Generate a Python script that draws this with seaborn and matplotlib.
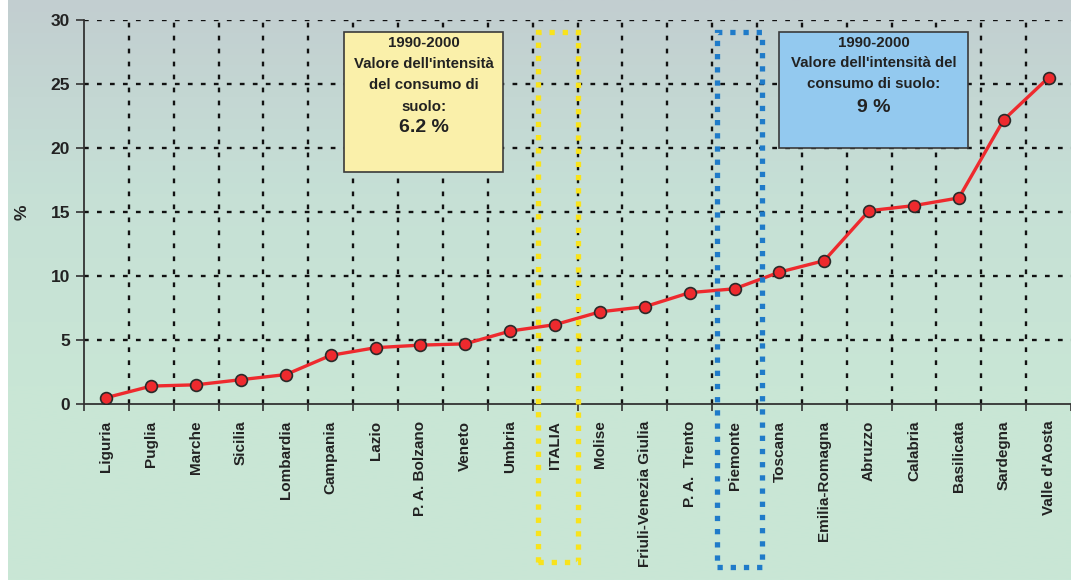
import numpy as np
import pandas as pd
import matplotlib
matplotlib.use("Agg")
import matplotlib.pyplot as plt
from matplotlib.patches import Rectangle
from matplotlib.colors import LinearSegmentedColormap
import seaborn as sns

# Intensità del consumo di suolo 1990-2000, per regione (%)
regions = ["Liguria", "Puglia", "Marche", "Sicilia", "Lombardia", "Campania",
           "Lazio", "P. A. Bolzano", "Veneto", "Umbria", "ITALIA", "Molise",
           "Friuli-Venezia Giulia", "P. A.  Trento", "Piemonte", "Toscana",
           "Emilia-Romagna", "Abruzzo", "Calabria", "Basilicata", "Sardegna",
           "Valle d'Aosta"]
values = [0.5, 1.4, 1.5, 1.9, 2.3, 3.8, 4.4, 4.6, 4.7, 5.7, 6.2, 7.2,
          7.6, 8.7, 9.0, 10.3, 11.2, 15.1, 15.5, 16.1, 22.2, 25.5]
y_ticks = [0, 5, 10, 15, 20, 25, 30]

italia_text = ["1990-2000", "Valore dell'intensità", "del consumo di", "suolo:"]
italia_value = "6.2 %"
piemonte_text = ["1990-2000", "Valore dell'intensità del", "consumo di suolo:"]
piemonte_value = "9 %"

df = pd.DataFrame({"regione": regions, "valore": values})

sns.set_theme(style="white")
plt.rcParams["font.family"] = ["Liberation Sans", "DejaVu Sans"]
plt.rcParams["font.weight"] = "bold"

W, H = 1071, 580
fig = plt.figure(figsize=(W / 100, H / 100), dpi=100)

# sfondo sfumato grigio-azzurro -> verde chiaro
bg = fig.add_axes([8 / W, 0, 1 - 8 / W, 1], zorder=-10)
grad = np.linspace(0, 1, 256).reshape(-1, 1)
cmap = LinearSegmentedColormap.from_list(
    "bg", ["#c2ced0", "#c6e0d6", "#c9e6d5", "#c9e7d6"])
bg.imshow(grad, aspect="auto", cmap=cmap, extent=[0, 1, 0, 1], origin="upper")
bg.set_axis_off()

ax = fig.add_axes([84 / W, 176 / H, (W - 84) / W, 384 / H])
ax.set_facecolor("none")

ink = "#222222"
sns.lineplot(data=df, x="regione", y="valore", sort=False, ax=ax,
             color="#ee2a2e", linewidth=2.4, marker="o", markersize=8.5,
             markerfacecolor="#ee2a2e", markeredgecolor="#2a2a2a",
             markeredgewidth=1.2, zorder=5)

n = len(regions)
ax.set_xlim(-0.5, n - 0.5)
ax.set_ylim(0, 30)
ax.set_yticks(y_ticks)
ax.set_yticklabels([str(t) for t in y_ticks], fontsize=12.5, fontweight="bold",
                   color=ink)
ax.set_xticks(range(n))
ax.set_xticklabels(regions, rotation=90, fontsize=11, fontweight="bold",
                   color=ink, va="top", ha="center")
ax.set_xticks(np.arange(-0.5, n, 1.0), minor=True)
ax.tick_params(axis="x", which="major", length=0, pad=12)
ax.tick_params(axis="x", which="minor", length=5, width=1.2, color="#333333",
               direction="out", bottom=True)
ax.tick_params(axis="y", which="major", length=6, width=1.2, color="#333333",
               direction="out", left=True, pad=4)
ax.set_xlabel("")
ax.set_ylabel("%", fontsize=12.5, fontweight="bold", color=ink)
ax.yaxis.set_label_coords(-54 / (W - 84), 0.5)

# griglia puntinata
dot = (0, (2.0, 3.5))
for yv in y_ticks[1:]:
    ax.axhline(yv, color="#111111", linewidth=1.7, linestyle=dot, zorder=1)
for xv in np.arange(0.5, n - 0.5, 1.0):
    ax.axvline(xv, color="#111111", linewidth=1.7, linestyle=dot, zorder=1)

for side in ["top", "right"]:
    ax.spines[side].set_visible(False)
for side in ["left", "bottom"]:
    ax.spines[side].set_color("#333333")
    ax.spines[side].set_linewidth(1.3)

# riquadri puntinati che evidenziano ITALIA e Piemonte
i_it = regions.index("ITALIA")
i_pi = regions.index("Piemonte")
sq = (0, (1.0, 1.5))
ax.add_patch(Rectangle((i_it - 0.38, -12.35), 0.89, 41.4, fill=False,
                       edgecolor="#f8e31c", linewidth=3.8, linestyle=sq,
                       clip_on=False, zorder=8))
ax.add_patch(Rectangle((i_pi - 0.39, -12.7), 1.0, 41.75, fill=False,
                       edgecolor="#1f7bc9", linewidth=3.8, linestyle=sq,
                       clip_on=False, zorder=8))

# riquadri di testo
def text_box(x0, x1, y0, y1, face, lines, value, line_y, value_y):
    fig.add_artist(Rectangle((x0 / W, 1 - y1 / H), (x1 - x0) / W,
                             (y1 - y0) / H, transform=fig.transFigure,
                             facecolor=face, edgecolor="#3a3a3a",
                             linewidth=1.2, zorder=9))
    cx = (x0 + x1) / 2 / W
    for txt, yy in zip(lines, line_y):
        fig.text(cx, 1 - yy / H, txt, ha="center", va="center", fontsize=10.8,
                 fontweight="bold", color=ink, zorder=10)
    fig.text(cx, 1 - value_y / H, value, ha="center", va="center",
             fontsize=14, fontweight="bold", color=ink, zorder=10)

text_box(344, 503, 32, 172, "#faf0aa", italia_text, italia_value,
         [42.7, 64.0, 85.3, 106.7], 127.5)
text_box(779, 968, 32, 148, "#93c9ef", piemonte_text, piemonte_value,
         [42.7, 63.3, 83.5], 107.0)

fig.savefig("out.png", dpi=100)
